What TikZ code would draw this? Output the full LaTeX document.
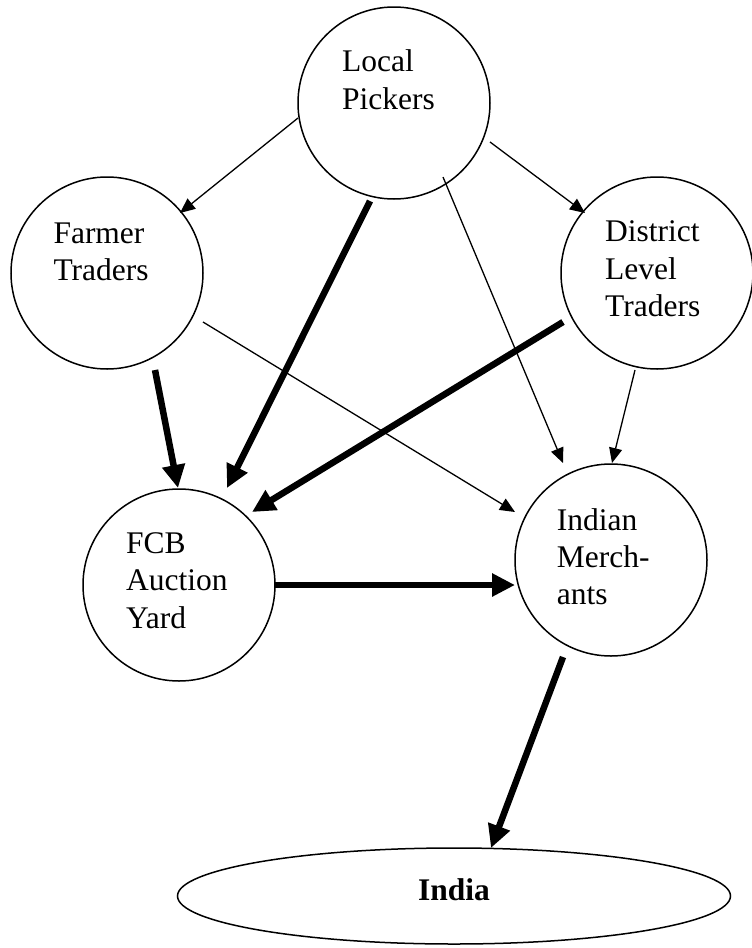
\documentclass[tikz,border=0pt]{standalone}
\usepackage{fontspec}
\setmainfont{Liberation Serif}
\usetikzlibrary{arrows.meta,calc,shapes.geometric}
\begin{document}
\begin{tikzpicture}[x=1pt,y=-1pt,
  ring/.style={draw,circle,line width=1.5pt,minimum size=192pt,inner sep=0pt},
  oval/.style={draw,ellipse,line width=1.5pt,minimum width=553pt,minimum height=96pt,inner sep=0pt},
  lbl/.style={anchor=base west,inner sep=0pt,font=\fontsize{31.5}{37.5}\selectfont},
  thinarrow/.style={line width=1.3pt,-{Triangle[length=15pt,width=13pt]}},
  thickarrow/.style={line width=6.5pt,-{Triangle[length=23pt,width=22pt]}}]
\useasboundingbox (0,0) rectangle (752,948);
% circles
\node[ring] (lp) at (394,103) {};
\node[ring] (ft) at (107,273) {};
\node[ring] (dl) at (657,273) {};
\node[ring] (fcb) at (179,585) {};
\node[ring] (im) at (611,560) {};
\node[oval] (india) at (454,896) {};
% labels
\node[lbl] (lp1) at (342,71.7) {Local};
\node[lbl] (lp2) at (342,109.3) {Pickers};
\node[lbl] (ft1) at (53.3,243.3) {Farmer};
\node[lbl] (ft2) at (53.3,280.5) {Traders};
\node[lbl] (dl1) at (605,241.7) {District};
\node[lbl] (dl2) at (605,279) {Level};
\node[lbl] (dl3) at (605,316.5) {Traders};
\node[lbl] (fcb1) at (126,553.3) {FCB};
\node[lbl] (fcb2) at (126,590.7) {Auction};
\node[lbl] (fcb3) at (126,628) {Yard};
\node[lbl] (im1) at (556.7,530) {Indian};
\node[lbl] (im2) at (556.7,567.3) {Merch-};
\node[lbl] (im3) at (556.7,604.6) {ants};
\node[lbl,anchor=base,font=\fontsize{31.5}{37.5}\selectfont\bfseries] (indiat) at (454,900) {India};
% thin connectors
\draw[thinarrow] ($(lp)+(-96,15)$) -- ($(ft)+(73,-60)$);
\draw[thinarrow] ($(lp)+(96,39)$) -- ($(dl)+(-72,-60)$);
\draw[thinarrow] ($(lp)+(49,74)$) -- ($(im)+(-48,-97)$);
\draw[thinarrow] ($(ft)+(96,49)$) -- ($(im)+(-96,-48)$);
\draw[thinarrow] ($(dl)+(-22,97)$) -- ($(im)+(1,-97)$);
% thick connectors
\draw[thickarrow] ($(lp)+(-24,98)$) -- ($(fcb)+(48,-97)$);
\draw[thickarrow] ($(ft)+(48,97)$) -- ($(fcb)+(-1,-97)$);
\draw[thickarrow] ($(dl)+(-94,49)$) -- ($(fcb)+(73,-73)$);
\draw[thickarrow] ($(fcb)+(96,0)$) -- ($(im)+(-96,25)$);
\draw[thickarrow] ($(im)+(-48,97)$) -- ($(india)+(37,-48)$);
\end{tikzpicture}
\end{document}
